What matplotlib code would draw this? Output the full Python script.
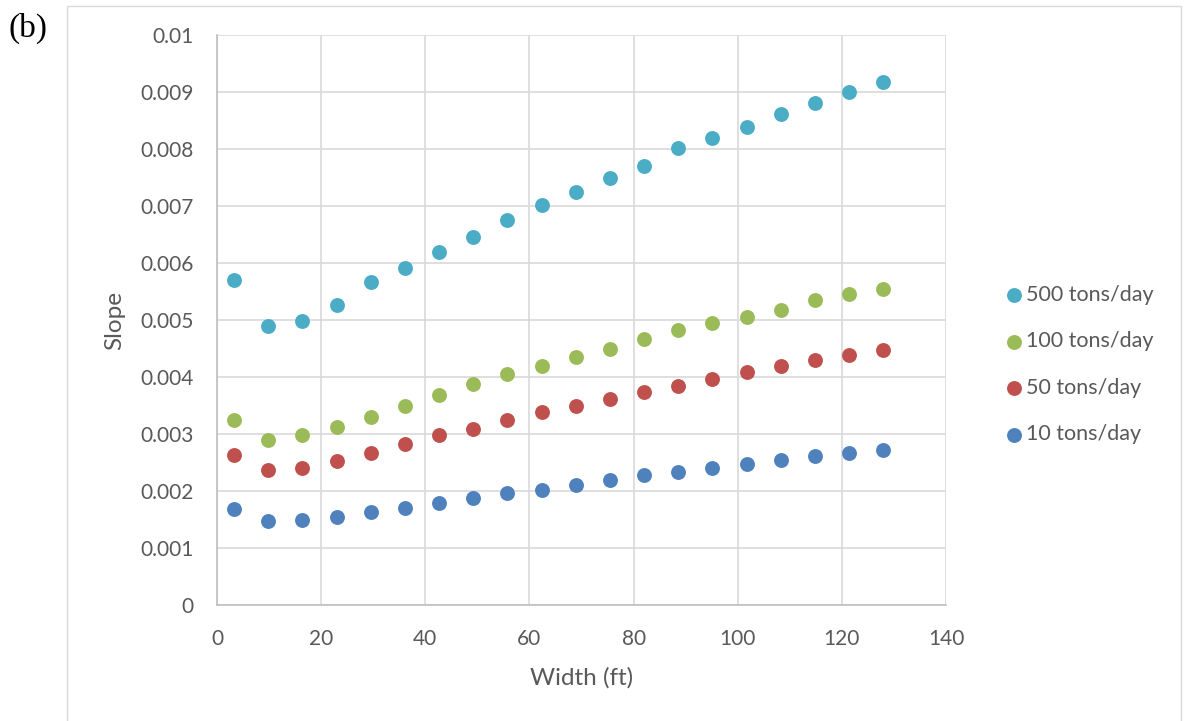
import matplotlib
matplotlib.use("Agg")
import matplotlib.pyplot as plt
from matplotlib.patches import Rectangle

width_ft = [3.28, 9.84, 16.40, 22.97, 29.53, 36.09, 42.65, 49.21, 55.77, 62.34,
            68.90, 75.46, 82.02, 88.58, 95.14, 101.71, 108.27, 114.83, 121.39, 127.95]

slope_10 = [0.00169, 0.00148, 0.00149, 0.00154, 0.00163, 0.00171, 0.00179, 0.00187, 0.00196, 0.00202,
            0.00211, 0.00220, 0.00228, 0.00234, 0.00241, 0.00247, 0.00255, 0.00262, 0.00267, 0.00272]
slope_50 = [0.00264, 0.00237, 0.00241, 0.00253, 0.00267, 0.00283, 0.00298, 0.00309, 0.00324, 0.00339,
            0.00350, 0.00362, 0.00374, 0.00385, 0.00396, 0.00409, 0.00419, 0.00429, 0.00438, 0.00447]
slope_100 = [0.00325, 0.00289, 0.00298, 0.00312, 0.00330, 0.00350, 0.00369, 0.00387, 0.00405, 0.00419,
             0.00435, 0.00450, 0.00467, 0.00482, 0.00495, 0.00506, 0.00518, 0.00535, 0.00545, 0.00554]
slope_500 = [0.00571, 0.00490, 0.00499, 0.00526, 0.00567, 0.00592, 0.00619, 0.00646, 0.00676, 0.00701,
             0.00724, 0.00749, 0.00771, 0.00801, 0.00819, 0.00839, 0.00861, 0.00881, 0.00900, 0.00917]

series_labels = ["10 tons/day", "50 tons/day", "100 tons/day", "500 tons/day"]
series_values = [slope_10, slope_50, slope_100, slope_500]
series_colors = ["#4F81BD", "#C0504D", "#9BBB59", "#4BACC6"]

x_ticks = [0, 20, 40, 60, 80, 100, 120, 140]
y_ticks = [0, 0.001, 0.002, 0.003, 0.004, 0.005, 0.006, 0.007, 0.008, 0.009, 0.01]
y_tick_labels = ["0", "0.001", "0.002", "0.003", "0.004", "0.005", "0.006", "0.007", "0.008", "0.009", "0.01"]

plt.rcParams['font.family'] = ['Lato', 'DejaVu Sans']
W, H = 1188, 721
fig = plt.figure(figsize=(W / 100, H / 100), dpi=100)

# outer chart frame
fig.patches.append(Rectangle((67 / W, -0.1), (1181 - 67) / W, 1.1 - 6 / H,
                             transform=fig.transFigure, fill=False,
                             edgecolor="#D9D9D9", linewidth=1.0))

ax = fig.add_axes([217 / W, 1 - 605 / H, (946 - 217) / W, (605 - 35) / H])

handles = []
for lab, vals, col in zip(series_labels, series_values, series_colors):
    h = ax.scatter(width_ft, vals, s=115, color=col, label=lab, zorder=3, linewidths=0)
    handles.append(h)

ax.set_xlim(0, 140)
ax.set_ylim(0, 0.01)
ax.set_xticks(x_ticks)
ax.set_xticklabels([str(t) for t in x_ticks])
ax.set_yticks(y_ticks)
ax.set_yticklabels(y_tick_labels)
ax.grid(True, color="#D9D9D9", linewidth=1.2, zorder=0)
ax.set_axisbelow(True)
for s in ["top", "right"]:
    ax.spines[s].set_visible(False)
for s in ["left", "bottom"]:
    ax.spines[s].set_color("#BFBFBF")
    ax.spines[s].set_linewidth(1.2)
ax.tick_params(length=0, pad=17, labelsize=15, labelcolor="#595959")
ax.set_xlabel("Width (ft)", fontsize=17.5, color="#595959", labelpad=13)
ax.set_ylabel("Slope", fontsize=17.5, color="#595959", labelpad=11)

leg = fig.legend(handles[::-1], series_labels[::-1], loc="center left",
                 bbox_to_anchor=(1006 / W, 1 - 364.5 / H), bbox_transform=fig.transFigure,
                 frameon=False, fontsize=15.5, borderpad=0, borderaxespad=0,
                 handlelength=0.7, handletextpad=0.25, labelspacing=1.23,
                 scatterpoints=1)
for t in leg.get_texts():
    t.set_color("#595959")

fig.text(8 / W, 1 - 28 / H, "(b)", fontsize=24, family="Liberation Serif",
         va="center", ha="left", color="black")

fig.savefig("out.png", dpi=100)
